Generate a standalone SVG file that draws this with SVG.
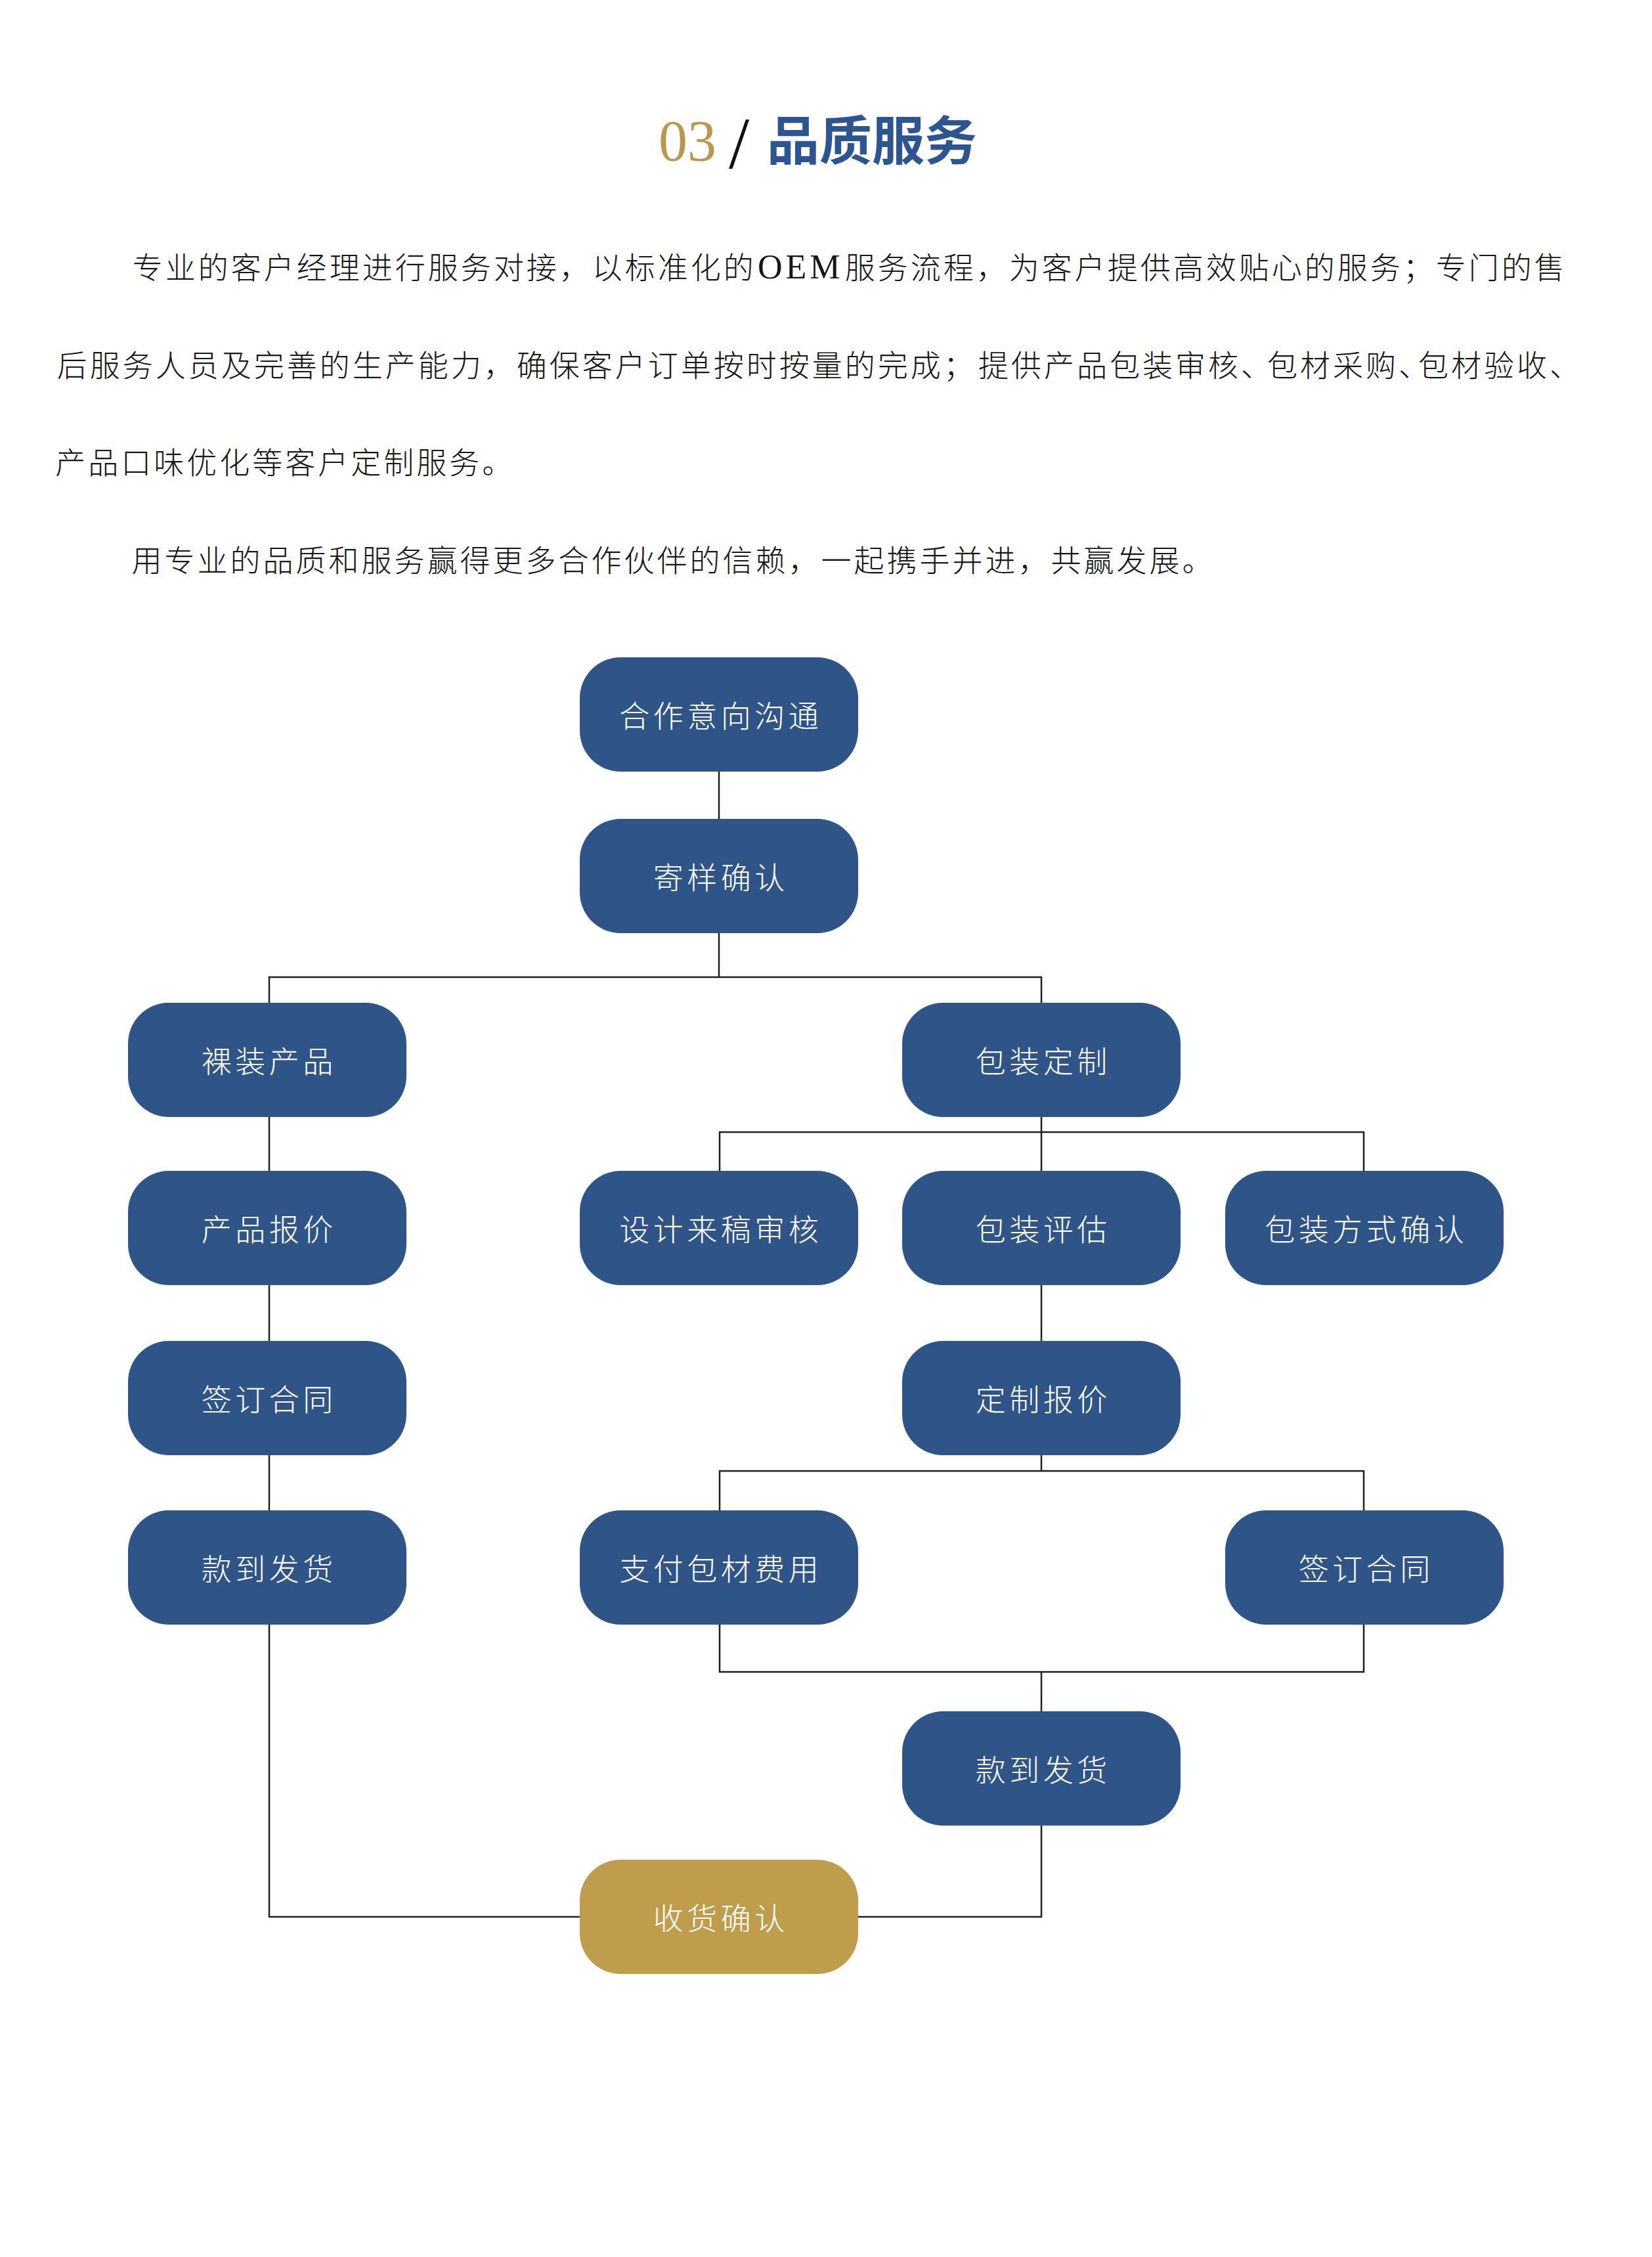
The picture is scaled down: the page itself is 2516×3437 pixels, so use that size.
<svg xmlns="http://www.w3.org/2000/svg" width="2516" height="3437" viewBox="0 0 2516 3437">
<style>
.node rect{fill:#2f5487}
.node.gold rect{fill:#c09d4c}
.node text{font-family:"Noto Sans CJK SC","Noto Sans",sans-serif;font-size:46px;fill:#ffffff;letter-spacing:5.5px;text-anchor:middle;font-weight:300}
.conn path{fill:none;stroke:#1e1e1e;stroke-width:2.5}
.para{font-family:"Noto Sans CJK SC","Noto Sans",sans-serif;font-size:46px;fill:#161616;letter-spacing:4px;font-weight:300}
</style>
<rect width="2516" height="3437" fill="#ffffff"/>
<g id="title">
<text x="1003" y="244" font-family="Liberation Serif, serif" font-size="88" fill="#b9974f">03</text>
<text x="1110" y="256" font-family="Liberation Serif, serif" font-size="112" fill="#111111">/</text>
<text x="1168" y="243" font-family="Noto Sans CJK SC, sans-serif" font-weight="700" font-size="80" fill="#2c5592">品质服务</text>
</g>
<g id="paragraph">
<text class="para" y="424"><tspan x="201.7">专业的客户经理进行服务对接，以标准化的</tspan><tspan x="1154" font-family="Liberation Serif, serif" font-size="52" letter-spacing="5">OEM</tspan><tspan x="1286.7">服务流程，为客户提供高效贴心的服务；专门的售</tspan></text>
<text class="para" y="573"><tspan x="86.7">后服务人员及完善的生产能力，确保客户订单按时按量的完成；</tspan><tspan x="1490">提供产品包装审核、</tspan><tspan x="1930">包材采购、</tspan><tspan x="2160">包材验收、</tspan></text>
<text class="para" x="84.2" y="721">产品口味优化等客户定制服务。</text>
<text class="para" x="200.6" y="870">用专业的品质和服务赢得更多合作伙伴的信赖，一起携手并进，共赢发展。</text>
</g>
<g id="connectors" class="conn">
<path d="M1095 1175V1247"/>
<path d="M1095 1421V1488"/>
<path d="M410 1527V1488H1586V1527"/>
<path d="M410 1701V1783"/>
<path d="M410 1957V2042"/>
<path d="M410 2216V2300"/>
<path d="M410 2474V2919H883"/>
<path d="M1586 1701V1783"/>
<path d="M1096 1783V1724H2077V1783"/>
<path d="M1586 1957V2042"/>
<path d="M1586 2216V2240"/>
<path d="M1096 2300V2240H2077V2300"/>
<path d="M1096 2474V2546H2077V2474"/>
<path d="M1586 2546V2606"/>
<path d="M1586 2780V2919H1307"/>
</g>
<g id="n-hezuo" class="node"><rect x="883" y="1001" width="424" height="174" rx="62"/><text x="1097.75" y="1107">合作意向沟通</text></g>
<g id="n-jiyang" class="node"><rect x="883" y="1247" width="424" height="174" rx="62"/><text x="1097.75" y="1353">寄样确认</text></g>
<g id="n-luozhuang" class="node"><rect x="195" y="1527" width="424" height="174" rx="62"/><text x="409.75" y="1633">裸装产品</text></g>
<g id="n-baozhuang" class="node"><rect x="1374" y="1527" width="424" height="174" rx="62"/><text x="1588.75" y="1633">包装定制</text></g>
<g id="n-baojia" class="node"><rect x="195" y="1783" width="424" height="174" rx="62"/><text x="409.75" y="1889">产品报价</text></g>
<g id="n-sheji" class="node"><rect x="883" y="1783" width="424" height="174" rx="62"/><text x="1097.75" y="1889">设计来稿审核</text></g>
<g id="n-pinggu" class="node"><rect x="1374" y="1783" width="424" height="174" rx="62"/><text x="1588.75" y="1889">包装评估</text></g>
<g id="n-fangshi" class="node"><rect x="1866" y="1783" width="424" height="174" rx="62"/><text x="2080.75" y="1889">包装方式确认</text></g>
<g id="n-hetong1" class="node"><rect x="195" y="2042" width="424" height="174" rx="62"/><text x="409.75" y="2148">签订合同</text></g>
<g id="n-dingzhi" class="node"><rect x="1374" y="2042" width="424" height="174" rx="62"/><text x="1588.75" y="2148">定制报价</text></g>
<g id="n-fahuo1" class="node"><rect x="195" y="2300" width="424" height="174" rx="62"/><text x="409.75" y="2406">款到发货</text></g>
<g id="n-zhifu" class="node"><rect x="883" y="2300" width="424" height="174" rx="62"/><text x="1097.75" y="2406">支付包材费用</text></g>
<g id="n-hetong2" class="node"><rect x="1866" y="2300" width="424" height="174" rx="62"/><text x="2080.75" y="2406">签订合同</text></g>
<g id="n-fahuo2" class="node"><rect x="1374" y="2606" width="424" height="174" rx="62"/><text x="1588.75" y="2712">款到发货</text></g>
<g id="n-shouhuo" class="node gold"><rect x="883" y="2832" width="424" height="174" rx="62"/><text x="1097.75" y="2938">收货确认</text></g>
</svg>
